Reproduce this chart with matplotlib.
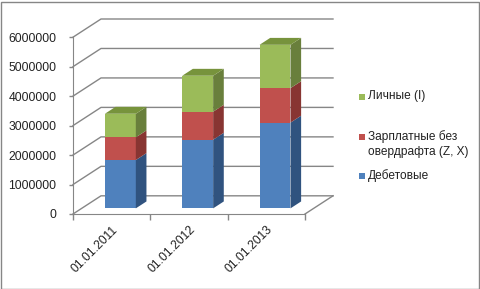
import matplotlib
matplotlib.use("Agg")
import matplotlib.pyplot as plt
from matplotlib.patches import Polygon, Rectangle

categories = ["01.01.2011", "01.01.2012", "01.01.2013"]
debit = [1640000, 2330000, 2910000]
salary = [770000, 950000, 1170000]
personal = [800000, 1220000, 1470000]
series_names = ["Дебетовые", "Зарплатные без\nовердрафта (Z, X)", "Личные (I)"]
y_ticks = [0, 1000000, 2000000, 3000000, 4000000, 5000000, 6000000]

front_colors = ["#4F81BD", "#C0504D", "#9BBB59"]
side_colors = ["#30537F", "#883532", "#697F3C"]
top_colors = ["#3C6595", "#9A3F3C", "#77933C"]

FONT = "Liberation Sans"
W, H = 481, 289
fig = plt.figure(figsize=(W / 100, H / 100), dpi=100)
fig.patch.set_facecolor("white")

# outer chart border
fig.add_artist(Rectangle((0.5 / W, 0.5 / H), (W - 2) / W, (H - 2) / H,
                         transform=fig.transFigure, fill=False,
                         edgecolor="#868686", lw=1))

# plot area geometry (pixels)
x_left, x_front_right, x_back_right = 73, 305, 333
y_floor, y_top = 214, 19
ymax_front = 6000000
n = len(categories)
cat_px = (x_front_right - x_left) / n
val_px = (y_floor - 39) / ymax_front
DX = (x_back_right - x_front_right) / cat_px          # depth in category units
DY = (y_floor - 196) / val_px                          # depth in value units

ax = fig.add_axes([x_left / W, (H - y_floor) / H,
                   (x_back_right - x_left) / W, (y_floor - y_top) / H])
ax.set_xlim(-0.5, n - 0.5 + DX)
ax.set_ylim(0, ymax_front + DY)
ax.patch.set_alpha(0)
for s in ["top", "right"]:
    ax.spines[s].set_visible(False)
grid_c = "#868686"
ax.spines["left"].set_bounds(0, ymax_front)
ax.spines["bottom"].set_bounds(-0.5, n - 0.5)
ax.spines["left"].set_color(grid_c)
ax.spines["bottom"].set_color(grid_c)

# walls / gridlines
for v in y_ticks:
    ax.plot([-0.5, -0.5 + DX, n - 0.5 + DX], [v, v + DY, v + DY],
            color=grid_c, lw=1, zorder=1, clip_on=False)
ax.plot([n - 0.5, n - 0.5 + DX], [0, DY], color=grid_c, lw=1, zorder=1, clip_on=False)

# bars (oblique projection)
d0, d1 = 0.31, 0.69
bw = 0.40
for i in range(n):
    vals = [debit[i], salary[i], personal[i]]
    base = 0
    cx = i + d0 * DX
    by = d0 * DY
    ddx = (d1 - d0) * DX
    ddy = (d1 - d0) * DY
    for k, v in enumerate(vals):
        x0, x1 = cx - bw / 2, cx + bw / 2
        y0, y1 = by + base, by + base + v
        ax.add_patch(Rectangle((x0, y0), bw, v, facecolor=front_colors[k],
                               edgecolor="none", zorder=3))
        ax.add_patch(Polygon([(x1, y0), (x1 + ddx, y0 + ddy), (x1 + ddx, y1 + ddy), (x1, y1)],
                             closed=True, facecolor=side_colors[k], edgecolor="none", zorder=3))
        if k == len(vals) - 1:
            ax.add_patch(Polygon([(x0, y1), (x1, y1), (x1 + ddx, y1 + ddy), (x0 + ddx, y1 + ddy)],
                                 closed=True, facecolor=top_colors[k], edgecolor="none", zorder=3))
        base += v

# axes ticks
ax.set_yticks(y_ticks)
ax.set_yticklabels([str(v) for v in y_ticks], fontfamily=FONT, fontsize=8.7, color="#222222")
ax.tick_params(axis="y", length=3, width=1, color=grid_c, pad=9)
ax.set_xticks([i - 0.5 for i in range(n + 1)])
ax.set_xticklabels([])
ax.tick_params(axis="x", which="major", length=4, width=1, color=grid_c, direction="out")
ax.set_xticks(list(range(n)), minor=True)
ax.set_xticklabels(categories, minor=True, rotation=45, ha="right",
                   rotation_mode="anchor", fontfamily=FONT, fontsize=8.7, color="#222222")
ax.tick_params(axis="x", which="minor", length=0, pad=7)

# legend (manual, Excel style: marker aligned with first line), top to bottom
legend_rows_y = [176, 137, 97]   # pixel centre of first text line, per series
sq = 6
for name, col, yc in zip(series_names, front_colors, legend_rows_y):
    fig.add_artist(Rectangle((359 / W, (H - yc - sq / 2) / H), sq / W, sq / H,
                             transform=fig.transFigure, facecolor=col, edgecolor="none"))
    fig.text(368 / W, (H - yc + 7) / H, name, ha="left", va="top",
             fontfamily=FONT, fontsize=8.6, color="#222222", linespacing=1.3)

fig.savefig("out.png", dpi=100, facecolor="white")
